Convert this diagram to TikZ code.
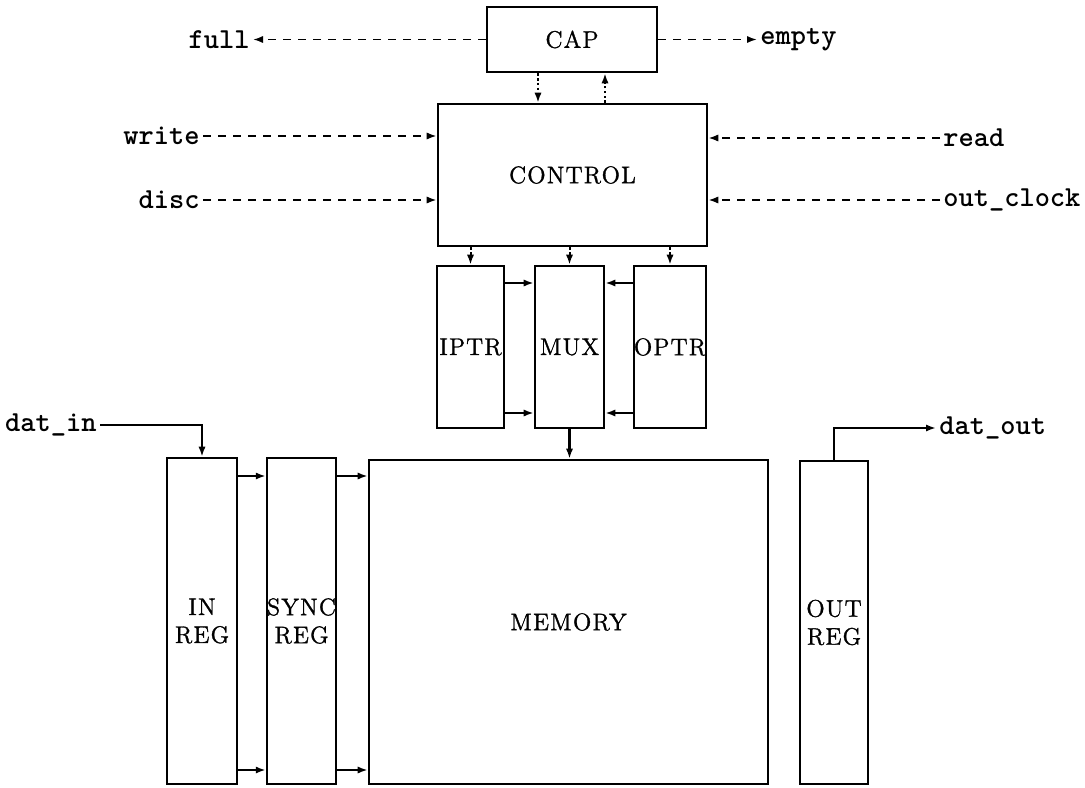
\documentclass[tikz,border=0pt]{standalone}
\usepackage{fontspec}
\usetikzlibrary{arrows.meta}
\newfontfamily\lblfam{lmmonolt10-bold}[Extension=.otf]
\newfontfamily\boxfam{lmroman12-regular}[Extension=.otf, LetterSpace=5, FakeBold=1.3]
\tikzset{
  box/.style={draw, line width=1.3pt, inner sep=0pt, align=center, font=\boxfam\fontsize{12}{14}\selectfont},
  lbl/.style={inner xsep=1.5pt, inner ysep=1pt, font=\lblfam\fontsize{14.5}{17}\selectfont},
  tipa/.style={-{Latex[length=5pt,width=3.6pt]}},
  sig/.style={tipa, line width=0.9pt, dash pattern=on 4pt off 3.5pt},
  ctl/.style={tipa, line width=1pt, dash pattern=on 1.2pt off 1.2pt},
  dat/.style={tipa, line width=1.2pt},
}
\begin{document}
\begin{tikzpicture}[x=0.5pt,y=-0.5pt]
\useasboundingbox (0,0) rectangle (1085,787);
% boxes
\node[box, minimum width=85pt, minimum height=32.5pt] (cap) at (572,39.5) {CAP};
\node[box, minimum width=134.5pt, minimum height=71pt] (control) at (572.5,175) {CONTROL};
\node[box, minimum width=33.5pt, minimum height=81pt] (iptr) at (470.5,347) {IPTR};
\node[box, minimum width=34.5pt, minimum height=81pt] (mux) at (569.5,347) {MUX};
\node[box, minimum width=33pt, minimum height=81pt] (optr) at (670,347) {OPTR};
\node[box, minimum width=199.5pt, minimum height=162pt] (memory) at (568.5,622) {MEMORY};
\node[box, minimum width=35pt, minimum height=163pt] (inreg) at (202,621) {IN\\REG};
\node[box, minimum width=33.5pt, minimum height=163pt] (syncreg) at (301.5,621) {SYNC\\REG};
\node[box, minimum width=34pt, minimum height=161.5pt] (outreg) at (834,622.5) {OUT\\REG};
% labels
\node[lbl, anchor=east] (full) at (253,39.5) {full};
\node[lbl, anchor=west] (empty) at (757,39.5) {empty};
\node[lbl, anchor=east] (write) at (203,136) {write};
\node[lbl, anchor=east] (disc) at (203,200) {disc};
\node[lbl, anchor=west] (read) at (940,138) {read};
\node[lbl, anchor=west] (outclock) at (940,200) {out\_clock};
\node[lbl, anchor=east] (datin) at (100,425) {dat\_in};
\node[lbl, anchor=west] (datout) at (936,428) {dat\_out};
% signals
\draw[sig] (cap.west) -- (full.east);
\draw[sig] (cap.east) -- (empty.west);
\draw[sig] (write.east) -- (write.east -| control.west);
\draw[sig] (disc.east) -- (disc.east -| control.west);
\draw[sig] (read.west) -- (read.west -| control.east);
\draw[sig] (outclock.west) -- (outclock.west -| control.east);
% cap <-> control
\draw[ctl] ([xshift=-17pt]cap.south) -- ([xshift=-17pt]cap.south |- control.north);
\draw[ctl] ([xshift=16.5pt]cap.south |- control.north) -- ([xshift=16.5pt]cap.south);
% control -> pointers
\draw[ctl] (iptr.north |- control.south) -- (iptr.north);
\draw[ctl] (mux.north |- control.south) -- (mux.north);
\draw[ctl] (optr.north |- control.south) -- (optr.north);
% pointers -> mux
\draw[dat] ([yshift=32pt]iptr.east) -- ([yshift=32pt]iptr.east -| mux.west);
\draw[dat] ([yshift=-33pt]iptr.east) -- ([yshift=-33pt]iptr.east -| mux.west);
\draw[dat] ([yshift=32pt]optr.west) -- ([yshift=32pt]optr.west -| mux.east);
\draw[dat] ([yshift=-33pt]optr.west) -- ([yshift=-33pt]optr.west -| mux.east);
\draw[dat] (mux.south) -- (mux.south |- memory.north);
% data path
\draw[dat] ([yshift=72.5pt]inreg.east) -- ([yshift=72.5pt]inreg.east -| syncreg.west);
\draw[dat] ([yshift=-74.5pt]inreg.east) -- ([yshift=-74.5pt]inreg.east -| syncreg.west);
\draw[dat] ([yshift=72.5pt]syncreg.east) -- ([yshift=72.5pt]syncreg.east -| memory.west);
\draw[dat] ([yshift=-74.5pt]syncreg.east) -- ([yshift=-74.5pt]syncreg.east -| memory.west);
\draw[dat] (datin.east) -| (inreg.north);
\draw[dat] (outreg.north) |- (datout.west);
\end{tikzpicture}
\end{document}
